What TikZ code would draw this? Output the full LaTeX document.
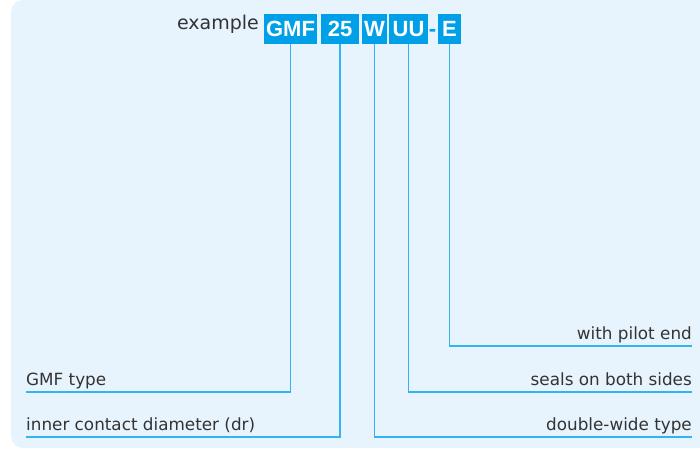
\documentclass[tikz,border=0pt]{standalone}
\usepackage{fontspec}
\setmainfont{DejaVu Sans}
\newfontfamily\codefont{Liberation Sans}
\usetikzlibrary{positioning}
\definecolor{panelblue}{HTML}{E8F4FD}
\definecolor{codeblue}{HTML}{00A0E9}
\definecolor{leaderblue}{HTML}{33B4F0}
\definecolor{labelgray}{HTML}{333333}
\tikzset{
  codebox/.style={
    fill=codeblue,
    text=white,
    inner sep=0pt,
    minimum height=30pt,
    text depth=0pt,
    font=\codefont\bfseries\fontsize{22}{22}\selectfont
  },
  leader/.style={draw=leaderblue, line width=1.5pt},
  partlabel/.style={
    inner xsep=0pt,
    inner ysep=6pt,
    text depth=0pt,
    text=labelgray,
    font=\fontsize{16.8}{19}\selectfont
  }
}

\begin{document}
\begin{tikzpicture}[x=1pt, y=-1pt]
  \useasboundingbox (0,0) rectangle (700,449);
  \fill[panelblue, rounded corners=12pt] (11,0) rectangle (712,448);
  % code
  \node[text=labelgray, inner sep=0pt, anchor=base east,
    font=\fontsize{19}{19}\selectfont] (example) at (259,30) {example};
  \node[codebox, minimum width=53pt] (gmf) at (290.5,29) {GMF};
  \node[codebox, minimum width=38pt] (size) at (340,29) {25};
  \node[codebox, minimum width=25pt] (wide) at (374.5,29) {W};
  \node[codebox, minimum width=39pt] (seal) at (408.5,29) {UU};
  \node[inner sep=0pt, anchor=base, text=codeblue,
    font=\codefont\bfseries\fontsize{22}{22}\selectfont] (dash) at (432.5,37) {-};
  \node[codebox, minimum width=23pt] (pilot) at (449.5,29) {E};
  % labels
  \node[partlabel, anchor=south west] (lbltype) at (26,392) {GMF type};
  \node[partlabel, anchor=south west] (lblsize) at (26,437) {inner contact diameter (dr)};
  \node[partlabel, anchor=south east] (lblpilot) at (692,346) {with pilot end};
  \node[partlabel, anchor=south east] (lblseal) at (692,392) {seals on both sides};
  \node[partlabel, anchor=south east] (lblwide) at (692,437) {double-wide type};
  % leaders
  \draw[leader] (gmf.south) |- (lbltype.south west);
  \draw[leader] (size.south) |- (lblsize.south west);
  \draw[leader] (wide.south) |- (lblwide.south east);
  \draw[leader] (seal.south) |- (lblseal.south east);
  \draw[leader] (pilot.south) |- (lblpilot.south east);
\end{tikzpicture}
\end{document}
